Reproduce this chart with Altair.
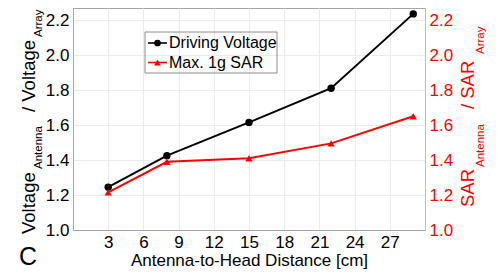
import altair as alt
import pandas as pd

# ---- data ----
distance = [3, 8, 15, 22, 29]
voltage_ratio = [1.245, 1.425, 1.615, 1.81, 2.235]
sar_ratio = [1.215, 1.39, 1.41, 1.495, 1.65]
series_names = ["Driving Voltage", "Max. 1g SAR"]
x_ticks = [3, 6, 9, 12, 15, 18, 21, 24, 27]
y_ticks = [1.0, 1.2, 1.4, 1.6, 1.8, 2.0, 2.2]
panel_letter = "C"
x_title = "Antenna-to-Head Distance [cm]"
left_title = ["Voltage", "Antenna", "/ Voltage", "Array"]
right_title = ["SAR", "Antenna", "/ SAR", "Array"]

df = pd.DataFrame({"distance": distance, "voltage": voltage_ratio, "sar": sar_ratio})
one = pd.DataFrame({"k": [0]})

FONT = "Liberation Sans"
RED = "#ff0000"
GRAY = "#a6a6a6"

x_enc = alt.X(
    "distance:Q",
    scale=alt.Scale(domain=[0, 30], nice=False),
    axis=alt.Axis(values=x_ticks, title=x_title, format="d"),
)
y_scale = alt.Scale(domain=[1.0, 2.2686], nice=False, zero=False)
y_left = alt.Y(
    "voltage:Q", scale=y_scale,
    axis=alt.Axis(values=y_ticks, format=".1f", orient="left", title=None,
                  grid=True, labelColor="black"),
)
y_right = alt.Y(
    "sar:Q", scale=y_scale,
    axis=alt.Axis(values=y_ticks, format=".1f", orient="right", title=None,
                  grid=False, labelColor=RED, domainColor="#f2a6a6"),
)

base = alt.Chart(df)
volt = alt.layer(
    base.mark_line(color="black", strokeWidth=2).encode(x=x_enc, y=y_left),
    base.mark_point(filled=True, shape="circle", size=55, color="black", opacity=1).encode(x=x_enc, y=y_left),
)
sar = alt.layer(
    base.mark_line(color=RED, strokeWidth=2).encode(x=x_enc, y=y_right),
    base.mark_point(filled=True, shape="triangle-up", size=55, color=RED, opacity=1).encode(x=x_enc, y=y_right),
)


def txt(text, x, y, size, color="black", angle=None, align="left", baseline="alphabetic"):
    kw = dict(text=text, font=FONT, fontSize=size, color=color, align=align, baseline=baseline)
    if angle is not None:
        kw["angle"] = angle
    return alt.Chart(one).mark_text(**kw).encode(x=alt.value(x), y=alt.value(y))


MAIN, SUB = 18.5, 11.5
titles = [
    # left title (rotated, reads bottom-up)
    txt(left_title[0], -38, 226, MAIN, angle=270),
    txt(left_title[1], -31, 161, SUB, angle=270),
    txt(left_title[2], -38, 104, MAIN, angle=270),
    txt(left_title[3], -31, 29, SUB, angle=270),
    # right title
    txt(right_title[0], 401, 199, MAIN, RED, angle=270),
    txt(right_title[1], 411, 159, SUB, RED, angle=270),
    txt(right_title[2], 401, 101, MAIN, RED, angle=270),
    txt(right_title[3], 411, 46, SUB, RED, angle=270),
    # panel letter
    txt(panel_letter, -45, 249, 25, align="center", baseline="middle"),
]

# legend
legend = [
    alt.Chart(one).mark_rect(fill="white", fillOpacity=0, stroke="#8c8c8c", strokeWidth=1).encode(
        x=alt.value(72), x2=alt.value(204), y=alt.value(24), y2=alt.value(65)),
    alt.Chart(one).mark_rule(color="black", strokeWidth=1.6).encode(
        x=alt.value(75), x2=alt.value(94), y=alt.value(35)),
    alt.Chart(one).mark_point(filled=True, shape="circle", size=45, color="black", opacity=1).encode(
        x=alt.value(84.5), y=alt.value(35)),
    txt(series_names[0], 96, 35, 16, baseline="middle"),
    alt.Chart(one).mark_rule(color=RED, strokeWidth=1.6).encode(
        x=alt.value(75), x2=alt.value(94), y=alt.value(54.5)),
    alt.Chart(one).mark_point(filled=True, shape="triangle-up", size=45, color=RED, opacity=1).encode(
        x=alt.value(84.5), y=alt.value(54.5)),
    txt(series_names[1], 96, 54.5, 16, baseline="middle"),
]

chart = alt.layer(volt, sar, *legend, *titles).resolve_scale(y="independent").properties(
    width=352,
    height=222,
    autosize=alt.AutoSizeParams(type="none"),
    padding={"left": 65, "top": 0, "right": 69, "bottom": 39},
).configure_view(
    stroke=GRAY, strokeWidth=1
).configure_axis(
    labelFont=FONT, labelFontSize=17, titleFont=FONT, titleFontSize=17,
    titleFontWeight="normal", titleColor="black", ticks=False,
    domainColor=GRAY, gridColor="#ebebeb", labelPadding=4, titlePadding=2,
    labelColor="black",
)

chart.save("out.html", embed_options={"renderer": "svg", "actions": False})
